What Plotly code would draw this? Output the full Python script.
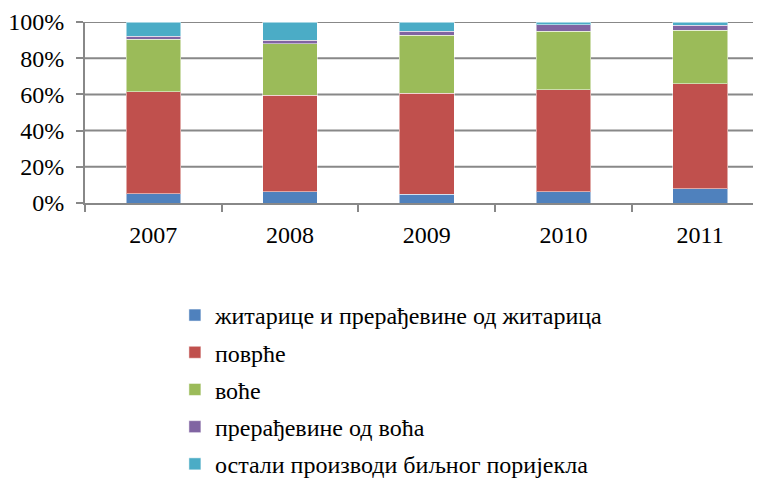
import plotly.graph_objects as go

years = ['2007', '2008', '2009', '2010', '2011']
series_names = [
    'житарице и прерађевине од житарица',
    'поврће',
    'воће',
    'прерађевине од воћа',
    'остали производи биљног поријекла',
]
zitarice = [5.1, 6.2, 4.8, 6.2, 7.8]
povrce = [56.3, 53.4, 55.9, 56.3, 58.2]
voce = [29.0, 28.4, 32.0, 32.3, 29.5]
preradjevine_voca = [1.8, 2.0, 2.2, 3.6, 2.6]
ostalo = [7.8, 10.0, 5.1, 1.6, 1.9]
y_ticks = [0, 20, 40, 60, 80, 100]
y_labels = ['0%', '20%', '40%', '60%', '80%', '100%']
colors = ['#4F81BD', '#C0504D', '#9BBB59', '#8064A2', '#4BACC6']

serif = 'Liberation Serif'
gray = '#888888'

# позиције категорија и граничне цртице између њих
x_pos = list(range(len(years)))
x_bounds = [p - 0.5 for p in x_pos] + [x_pos[-1] + 0.5]
x_range = [-0.5, 4.445]

fig = go.Figure()

# линије мреже као посебан траг на основним осама (стубови су на преклопљеним осама изнад)
grid_x, grid_y = [], []
for t in y_ticks[1:]:
    grid_x += [x_range[0], x_range[1], None]
    grid_y += [t, t, None]
fig.add_trace(go.Scatter(
    x=grid_x, y=grid_y, mode='lines',
    line=dict(color=gray, width=2),
    showlegend=False, hoverinfo='skip',
    xaxis='x', yaxis='y',
))

for i, (name, vals) in enumerate(zip(series_names,
                                     [zitarice, povrce, voce, preradjevine_voca, ostalo])):
    fig.add_trace(go.Bar(
        x=x_pos, y=vals, name=name,
        marker=dict(color=colors[i], line=dict(color='rgba(255,255,255,0.5)', width=1)),
        legendgroup=str(i),
        xaxis='x2', yaxis='y2',
    ))

# страница има body margin 8px, па је фигура мало мања
fig.update_layout(
    template='none',
    barmode='stack',
    bargap=0.6,
    width=753, height=470,
    margin=dict(l=77, r=0, t=13.5, b=274.5, autoexpand=False),
    plot_bgcolor='white',
    paper_bgcolor='white',
    font=dict(family=serif, size=24, color='black'),
    legend=dict(
        orientation='v',
        x=0.133, xanchor='left',
        y=-0.497, yanchor='top',
        traceorder='grouped',
        tracegroupgap=3,
        font=dict(family=serif, size=24, color='black'),
    ),
    yaxis=dict(
        range=[0, 100], tickmode='array', tickvals=y_ticks, ticktext=y_labels,
        tickfont=dict(family=serif, size=24, color='black'),
        showgrid=False,
        showline=True, linecolor=gray, linewidth=2,
        ticks='outside', ticklen=7, tickcolor=gray, tickwidth=2,
        ticklabelstandoff=7,
        zeroline=False, automargin=False,
    ),
    xaxis=dict(
        type='linear',
        range=x_range,
        tickmode='array', tickvals=x_pos, ticktext=years,
        tickfont=dict(family=serif, size=24, color='black'),
        showgrid=False, zeroline=False,
        showline=True, linecolor=gray, linewidth=2,
        ticks='', ticklabelstandoff=9,
        minor=dict(tickmode='array', tickvals=x_bounds, ticks='outside',
                   ticklen=7, tickcolor=gray, tickwidth=2, showgrid=False),
        automargin=False,
    ),
    xaxis2=dict(type='linear', range=x_range, overlaying='x', visible=False),
    yaxis2=dict(range=[0, 100], overlaying='y', visible=False),
)

fig.write_html("out.html")
